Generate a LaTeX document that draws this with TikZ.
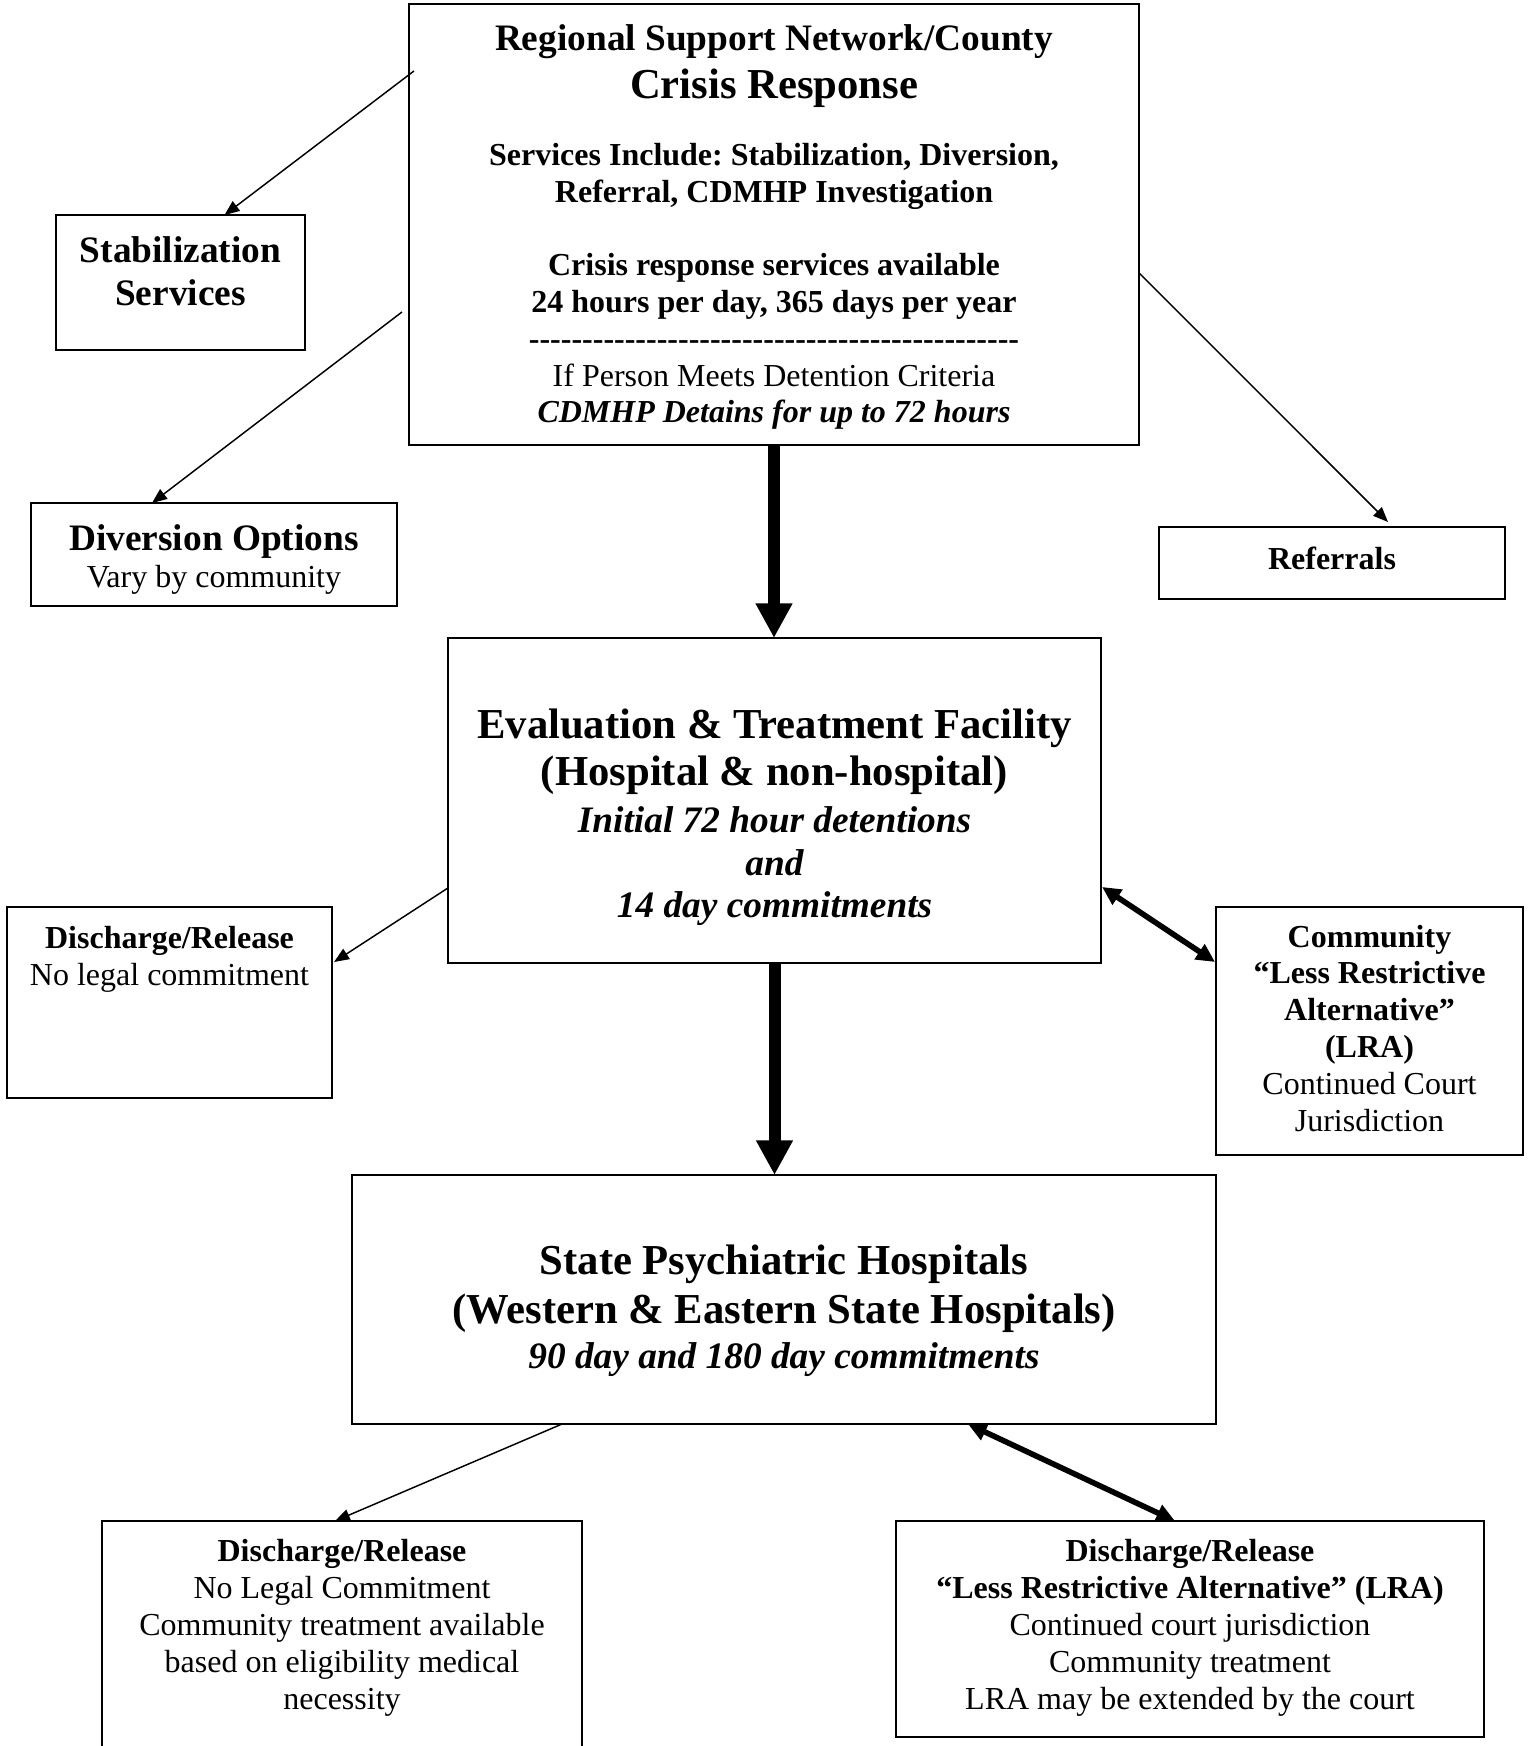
\documentclass[tikz,border=0pt]{standalone}
\usepackage{fontspec}
\setmainfont{Liberation Serif}
\usepackage{tikz}
\usetikzlibrary{arrows.meta, calc, positioning}

\newcommand{\boxtext}{\fontsize{12}{13.8}\selectfont\frenchspacing\lineskiplimit=-10pt\relax}
\newcommand{\boxheadM}{\fontsize{14}{16.1}\selectfont\bfseries}
\newcommand{\boxheadL}{\fontsize{16}{17.5}\selectfont\bfseries\frenchspacing}
\newcommand{\boxitM}{\fontsize{14}{16.1}\selectfont\bfseries\itshape}
\newcommand{\dashrow}{\foreach \k in {1,...,46}{-\kern0pt}}

\tikzstyle{box}=[rectangle, draw, line width=0.8pt, inner sep=0pt, outer sep=0pt]
\tikzstyle{txt}=[align=center, inner sep=0pt, anchor=base, font=\boxtext]
\tikzstyle{linkthin}=[line width=0.55pt, -{Triangle[length=5.6pt, width=4.5pt]}]
\tikzstyle{linkbold}=[line width=4.5pt, -{Triangle[length=13pt, width=13pt]}]
\tikzstyle{linkboth}=[line width=2.1pt, {Triangle[length=7pt, width=6.5pt]}-{Triangle[length=7pt, width=6.5pt]}]

\begin{document}
\begin{tikzpicture}[x=0.375pt, y=-0.375pt]
\useasboundingbox (0,0) rectangle (1532,1746);

% Crisis response (top)
\node[box, minimum width=273.75pt, minimum height=165.4pt] (crisis) at (774,224.5) {};
\node[txt] (crisistxt) at ($(crisis.north)+(0,419)$) {%
    {\boxheadM Regional Support Network/County}\\[4.2pt]
    {\boxheadL Crisis Response}\\[11.3pt]
    \textbf{Services Include: Stabilization, Diversion,}\\
    \textbf{Referral, CDMHP Investigation}\\[13.6pt]
    \textbf{Crisis response services available}\\
    \textbf{24 hours per day, 365 days per year}\\
    \textbf{\dashrow}\\
    If Person Meets Detention Criteria\\
    \textbf{\textit{CDMHP Detains for up to 72 hours}}};

% Side boxes of the crisis response
\node[box, minimum width=93.4pt, minimum height=50.6pt] (stab) at (180.5,282.5) {};
\node[txt, font=\boxheadM] (stabtxt) at ($(stab.north)+(0,90)$) {Stabilization\\Services};

\node[box, minimum width=137.25pt, minimum height=38.6pt] (divert) at (214,554.5) {};
\node[txt] (diverttxt) at ($(divert.north)+(0,84)$) {{\boxheadM Diversion Options}\\Vary by community};

\node[box, minimum width=129.75pt, minimum height=27pt] (refer) at (1332,563) {};
\node[txt] (refertxt) at ($(refer.north)+(0,43)$) {\textbf{Referrals}};

\draw[linkthin] ($(crisis.north west)+(5,67)$) to ($(stab.north)+(44,0)$);
\draw[linkthin] ($(crisis.north west)+(-7,308)$) to ($(divert.north)+(-62,0)$);
\draw[linkthin] ($(crisis.north east)+(0,269)$) to ($(refer.north)+(56,-5)$);

% Evaluation & treatment facility (middle)
\node[box, minimum width=244.9pt, minimum height=121.9pt] (evalfac) at (774.5,800.5) {};
\node[txt, font=\boxheadL] (evaltxt) at ($(evalfac.north)+(0,280)$) {%
    Evaluation \& Treatment Facility\\
    (Hospital \& non-hospital)\\
    {\boxitM Initial 72 hour detentions}\\[-1.4pt]
    {\boxitM and}\\[-1.4pt]
    {\boxitM 14 day commitments}};

\draw[linkbold] (crisis.south) to (crisis.south |- evalfac.north);

\node[box, minimum width=121.9pt, minimum height=71.6pt] (dischA) at (169.5,1002.5) {};
\node[txt] (dischAtxt) at ($(dischA.north)+(0,78)$) {\textbf{Discharge/Release}\\No legal commitment};

\node[box, minimum width=115.1pt, minimum height=93pt] (lra) at (1369.5,1031) {};
\node[txt] (lratxt) at ($(lra.north)+(0,224)$) {%
    \textbf{Community}\\
    \textbf{“Less Restrictive}\\
    \textbf{Alternative”}\\
    \textbf{(LRA)}\\
    Continued Court\\
    Jurisdiction};

\draw[linkthin] ($(evalfac.north west)+(0,250)$) to ($(dischA.north east)+(2,55)$);
\draw[linkboth] ($(evalfac.north east)+(1,249)$) to ($(lra.north west)+(-1,55)$);

% State psychiatric hospitals (bottom)
\node[box, minimum width=324pt, minimum height=93.4pt] (statehosp) at (784,1299.5) {};
\node[txt, font=\boxheadL] (statetxt) at ($(statehosp.north)+(0,194)$) {%
    State Psychiatric Hospitals\\[0.9pt]
    (Western \& Eastern State Hospitals)\\[-0.4pt]
    {\boxitM 90 day and 180 day commitments}};

\draw[linkbold] (evalfac.south) to (evalfac.south |- statehosp.north);

\node[box, minimum width=180pt, minimum height=89.6pt] (dischB) at (342,1640.5) {};
\node[txt] (dischBtxt) at ($(dischB.north)+(0,188)$) {%
    \textbf{Discharge/Release}\\
    No Legal Commitment\\
    Community treatment available\\
    based on eligibility medical\\
    necessity};

\node[box, minimum width=220.5pt, minimum height=81pt] (dischC) at (1190,1629) {};
\node[txt] (dischCtxt) at ($(dischC.north)+(0,188)$) {%
    \textbf{Discharge/Release}\\
    \textbf{“Less Restrictive Alternative” (LRA)}\\
    Continued court jurisdiction\\
    Community treatment\\
    LRA may be extended by the court};

\draw[linkthin] ($(statehosp.south west)+(210,0)$) to ($(dischB.north)+(-7,0)$);
\draw[linkboth] ($(statehosp.south west)+(616,0)$) to ($(dischC.north)+(-15,0)$);

\end{tikzpicture}
\end{document}
